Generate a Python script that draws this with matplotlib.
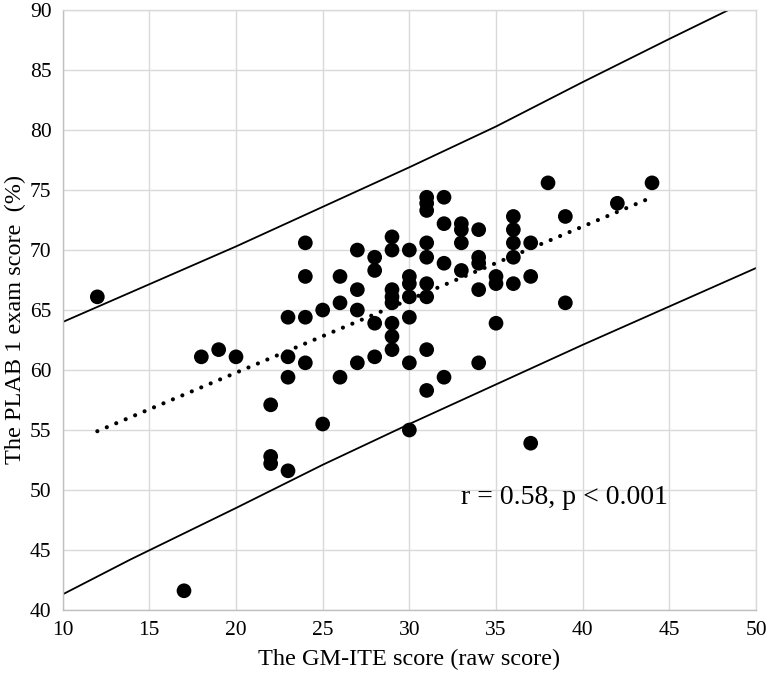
import matplotlib
matplotlib.use("Agg")
import matplotlib.pyplot as plt
import numpy as np

# ---- data ----
gm_ite = [12, 17, 18, 19, 20,
          22, 22, 22,
          23, 23, 23, 23,
          24, 24, 24, 24,
          25, 25,
          26, 26, 26,
          27, 27, 27, 27,
          28, 28, 28, 28,
          29, 29, 29, 29, 29, 29, 29, 29,
          30, 30, 30, 30, 30, 30, 30,
          31, 31, 31, 31, 31, 31, 31, 31, 31,
          32, 32, 32, 32,
          33, 33, 33, 33,
          34, 34, 34, 34, 34,
          35, 35, 35,
          36, 36, 36, 36, 36,
          37, 37, 37,
          38,
          39, 39,
          42,
          44]
plab = [66.1, 41.6, 61.1, 61.7, 61.1,
        57.1, 52.8, 52.2,
        64.4, 61.1, 59.4, 51.6,
        70.6, 67.8, 64.4, 60.6,
        65.0, 55.5,
        67.8, 65.6, 59.4,
        70.0, 66.7, 65.0, 60.6,
        69.4, 68.3, 63.9, 61.1,
        71.1, 70.0, 66.7, 66.1, 65.6, 63.9, 62.8, 61.7,
        70.0, 67.8, 67.2, 66.1, 64.4, 60.6, 55.0,
        74.4, 73.9, 73.3, 70.6, 69.4, 67.2, 66.1, 61.7, 58.3,
        74.4, 72.2, 68.9, 59.4,
        72.2, 71.7, 70.6, 68.3,
        71.7, 69.4, 68.9, 66.7, 60.6,
        67.8, 67.2, 63.9,
        72.8, 71.7, 70.6, 69.4, 67.2,
        70.6, 67.8, 53.9,
        75.6,
        72.8, 65.6,
        73.9,
        75.6]

trend_x = [12, 44]
trend_y = [54.9, 74.4]

upper_x = [10, 20, 30, 35, 40, 45, 48.4, 50]
upper_y = [64.0, 70.3, 76.9, 80.3, 84.0, 87.6, 90.0, 91.1]
lower_x = [10, 13.9, 20, 25, 30, 40, 50]
lower_y = [41.3, 44.2, 48.5, 52.1, 55.5, 62.1, 68.5]

x_ticks = [10, 15, 20, 25, 30, 35, 40, 45, 50]
y_ticks = [40, 45, 50, 55, 60, 65, 70, 75, 80, 85, 90]

x_label = "The GM-ITE score (raw score)"
y_label = "The PLAB 1 exam score  (%)"
annot = "r = 0.58, p < 0.001"

# ---- plotting ----
plt.rcParams['font.family'] = ['Liberation Serif', 'DejaVu Serif']

fig = plt.figure(figsize=(7.67, 6.74), dpi=100)
ax = fig.add_axes([0.0817, 0.095, 0.904, 0.890])

ax.set_xlim(10, 50)
ax.set_ylim(40, 90)
ax.set_xticks(x_ticks)
ax.set_yticks(y_ticks)
ax.grid(True, color='#d9d9d9', linewidth=1.0, zorder=0)
ax.set_axisbelow(True)

for side in ['top', 'right']:
    ax.spines[side].set_color('#d9d9d9')
    ax.spines[side].set_linewidth(1.0)
for side in ['left', 'bottom']:
    ax.spines[side].set_color('#bfbfbf')
    ax.spines[side].set_linewidth(1.0)

ax.tick_params(axis='both', length=0, labelsize=15.5, pad=8, colors='black')

ax.plot(upper_x, upper_y, color='black', linewidth=1.3, zorder=2)
ax.plot(lower_x, lower_y, color='black', linewidth=1.3, zorder=2)

ax.plot(trend_x, trend_y, color='black', linewidth=3.0,
        linestyle=(0, (0.01, 2.45)), dash_capstyle='round', zorder=4)

ax.scatter(gm_ite, plab, s=112, color='black', edgecolors='none', zorder=3)

ax.text(33.0, 49.4, annot, fontsize=20, ha='left', va='center', color='black')

ax.set_xlabel(x_label, fontsize=17.5, labelpad=6)
ax.set_ylabel(y_label, fontsize=17.5, va='center')
ax.yaxis.set_label_coords(-0.068, 0.485)

fig.savefig("out.png", dpi=100)
